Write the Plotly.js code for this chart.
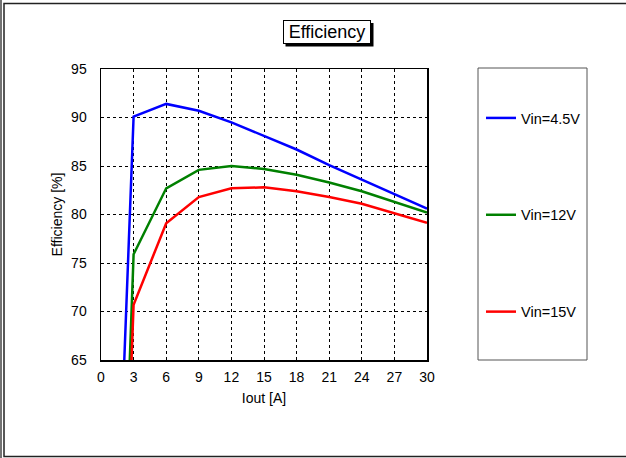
<!DOCTYPE html>
<html>
<head>
<meta charset="utf-8">
<script src="https://cdn.plot.ly/plotly-3.0.1.min.js"></script>
<style>html,body{margin:0;padding:0;background:#fff;}#chart{width:626px;height:458px;}</style>
</head>
<body>
<div id="chart"></div>
<script>
const chartTitle = "Efficiency";
const xTitle = "Iout [A]";
const yTitle = "Efficiency [%]";
const xTicks = [0, 3, 6, 9, 12, 15, 18, 21, 24, 27, 30];
const yTicks = [65, 70, 75, 80, 85, 90, 95];

const names = ["Vin=4.5V", "Vin=12V", "Vin=15V"];
const colors = ["#0000ff", "#008000", "#ff0000"];

const iout45 = [2, 3, 6, 9, 12, 15, 18, 21, 24, 27, 30];
const eff45 = [60.8, 90.1, 91.4, 90.7, 89.5, 88.1, 86.7, 85.1, 83.6, 82.1, 80.6];

const iout12 = [2.5, 3, 6, 9, 12, 15, 18, 21, 24, 27, 30];
const eff12 = [60.4, 75.9, 82.7, 84.6, 85.0, 84.7, 84.1, 83.3, 82.4, 81.3, 80.2];

const iout15 = [2.5, 3, 6, 9, 12, 15, 18, 21, 24, 27, 30];
const eff15 = [55.8, 70.7, 79.1, 81.8, 82.7, 82.8, 82.4, 81.8, 81.1, 80.1, 79.15];

const xs = [iout45, iout12, iout15];
const ys = [eff45, eff12, eff15];

const W = 626, H = 458;
const L = 101, R = 427, T = 69, B = 360;
const px = v => (v - L) / (R - L);
const py = v => (B - v) / (B - T);

const traces = names.map((n, i) => ({
  x: xs[i], y: ys[i], name: n, type: 'scatter', mode: 'lines',
  line: {color: colors[i], width: 2.5},
  legendgroup: 'g' + i
}));

const font = "Arial, 'Liberation Sans', sans-serif";

const layout = {
  width: W, height: H,
  margin: {l: L, r: W - R, t: T, b: H - B, pad: 0},
  paper_bgcolor: '#fff', plot_bgcolor: '#fff',
  font: {family: font, color: '#000', size: 14},
  showlegend: true,
  legend: {
    x: px(481), y: py(102), xanchor: 'left', yanchor: 'top',
    bgcolor: 'rgba(0,0,0,0)', borderwidth: 0,
    font: {family: font, size: 14.5, color: '#000'},
    traceorder: 'grouped', tracegroupgap: 75, itemwidth: 30
  },
  xaxis: {
    range: [0, 30], tickvals: xTicks, ticks: '', showline: true, mirror: true,
    linecolor: '#000', linewidth: 1.5, showgrid: true, gridcolor: '#000',
    griddash: 'dot', gridwidth: 1, zeroline: false,
    tickfont: {size: 14}, ticklabelstandoff: 4,
    title: {text: xTitle, font: {size: 14}, standoff: 9}
  },
  yaxis: {
    range: [65, 95], tickvals: yTicks, ticks: '', showline: true, mirror: true,
    linecolor: '#000', linewidth: 1.5, showgrid: true, gridcolor: '#000',
    griddash: 'dot', gridwidth: 1, zeroline: false,
    tickfont: {size: 14}, ticklabelstandoff: 10,
    title: {text: yTitle, font: {size: 14}, standoff: 5}
  },
  shapes: [
    {type: 'rect', xref: 'paper', yref: 'paper', x0: px(4), x1: px(640), y0: py(456.5), y1: py(3.5),
     line: {color: '#222', width: 1.5}, fillcolor: 'rgba(0,0,0,0)', layer: 'below'},
    {type: 'line', xref: 'paper', yref: 'paper', x0: px(1), x1: px(1), y0: py(470), y1: py(-5),
     line: {color: '#444', width: 1.5}},
    {type: 'rect', xref: 'paper', yref: 'paper', x0: px(478), x1: px(587), y0: py(360), y1: py(68),
     line: {color: '#555', width: 1}, fillcolor: 'rgba(0,0,0,0)'},
    {type: 'rect', xref: 'paper', yref: 'paper', x0: px(285.5), x1: px(373.5), y0: py(46.5), y1: py(23),
     line: {width: 0}, fillcolor: '#000'}
  ],
  annotations: [
    {text: chartTitle, xref: 'paper', yref: 'paper', x: px(326.5), y: py(32), xanchor: 'center', yanchor: 'middle',
     showarrow: false, font: {family: font, size: 18, color: '#000'},
     width: 84, height: 20, align: 'center', valign: 'middle',
     bgcolor: '#fff', bordercolor: '#000', borderwidth: 1, borderpad: 1}
  ]
};

Plotly.newPlot('chart', traces, layout, {displayModeBar: false, staticPlot: true});
</script>
</body>
</html>
